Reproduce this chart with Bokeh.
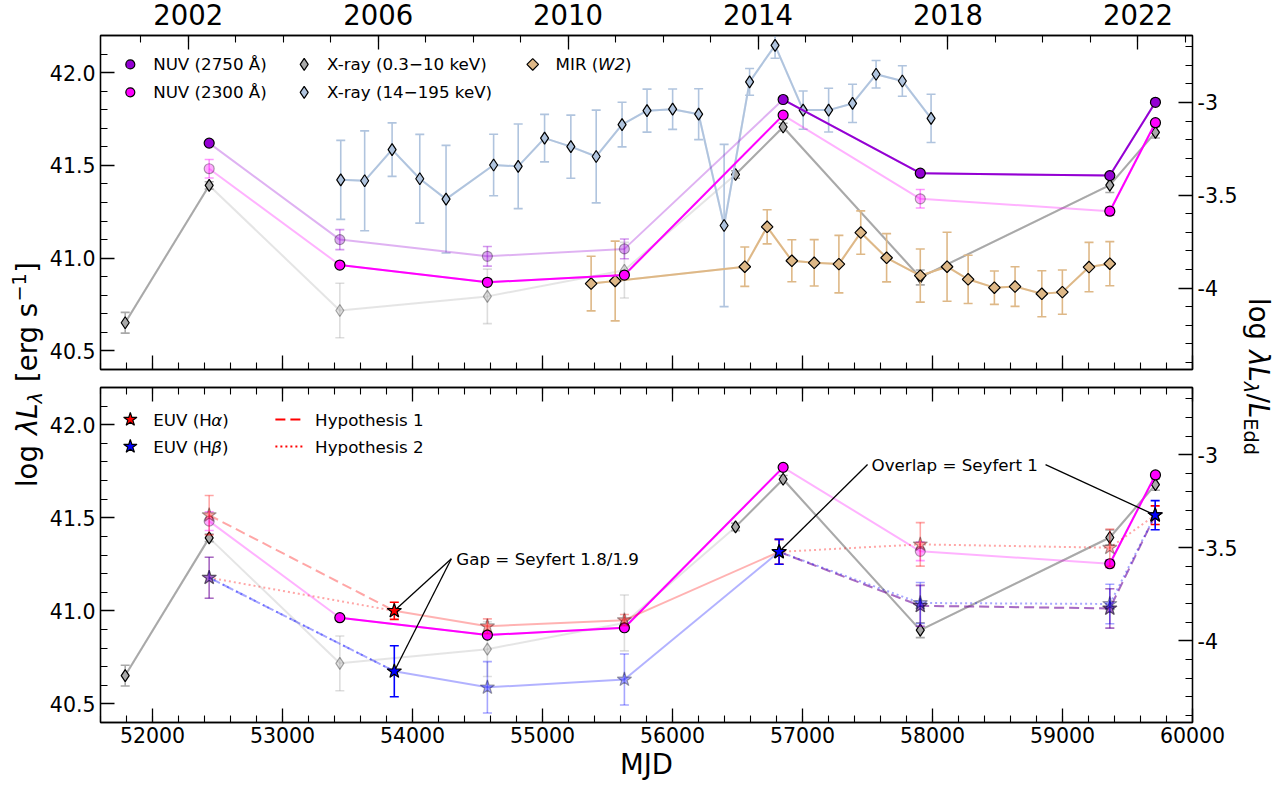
import numpy as np
from datetime import date
from bokeh.plotting import figure
from bokeh.layouts import row, column
from bokeh.models import (Range1d, LinearAxis, FixedTicker, SingleIntervalTicker,
                          PrintfTickFormatter, Label)
from bokeh.embed import file_html
from bokeh.resources import INLINE

FONT = "DejaVu Sans"

# ---------------- data ----------------
# NUV 2750 A  (obs = 1 measured, 0 = estimated from the other band)
nuv2750_mjd = [52436, 53441, 54576, 55630, 56851, 57906, 59364, 59715]
nuv2750_val = [41.620, 41.100, 41.010, 41.050, 41.855, 41.458, 41.445, 41.840]
nuv2750_err = [0.0, 0.054, 0.053, 0.053, 0.0, 0.0, 0.0, 0.0]
nuv2750_obs = [1, 0, 0, 0, 1, 1, 1, 1]

# NUV 2300 A
nuv2300_mjd = [52436, 53441, 54576, 55630, 56851, 57906, 59364, 59715]
nuv2300_val = [41.482, 40.963, 40.870, 40.909, 41.771, 41.320, 41.253, 41.730]
nuv2300_err = [0.05, 0.0, 0.0, 0.0, 0.0, 0.05, 0.02, 0.0]
nuv2300_obs = [0, 1, 1, 1, 1, 0, 1, 1]

# X-ray 0.3-10 keV
xsoft_mjd = [51790, 52436, 53441, 54576, 55630, 56485, 56851, 57906, 59364, 59715]
xsoft_val = [40.652, 41.392, 40.718, 40.794, 40.935, 41.451, 41.707, 40.896, 41.394, 41.678]
xsoft_err = [0.056, 0.02, 0.147, 0.147, 0.15, 0.02, 0.02, 0.04, 0.04, 0.03]
xsoft_obs = [1, 1, 0, 0, 0, 1, 1, 1, 1, 1]

# X-ray 14-195 keV
xhard_mjd = [53448, 53632, 53843, 54056, 54258, 54624, 54813, 55016, 55218, 55413,
             55612, 55804, 56001, 56201, 56397, 56593, 56789, 57005, 57201, 57385,
             57566, 57768, 57989]
xhard_val = [41.422, 41.417, 41.585, 41.428, 41.318, 41.502, 41.495, 41.647, 41.601, 41.548,
             41.720, 41.795, 41.803, 41.776, 41.176, 41.950, 42.147, 41.798, 41.798, 41.834,
             41.991, 41.955, 41.753]
xhard_err = [0.213, 0.269, 0.144, 0.239, 0.290, 0.166, 0.228, 0.128, 0.170, 0.250,
             0.120, 0.116, 0.109, 0.137, 0.437, 0.072, 0.070, 0.103, 0.118, 0.103,
             0.074, 0.082, 0.130]

# MIR (W2)
mir_mjd = [55374, 55559, 56556, 56728, 56918, 57090, 57280, 57448, 57647, 57906,
           58112, 58274, 58476, 58635, 58841, 58999, 59204, 59364]
mir_val = [40.863, 40.877, 40.954, 41.169, 40.986, 40.975, 40.968, 41.138, 41.002, 40.906,
           40.954, 40.886, 40.841, 40.847, 40.808, 40.817, 40.952, 40.970]
mir_err = [0.147, 0.215, 0.106, 0.092, 0.113, 0.125, 0.155, 0.117, 0.130, 0.143,
           0.186, 0.130, 0.090, 0.107, 0.124, 0.119, 0.133, 0.119]

# EUV from the broad Balmer lines
euv_mjd = [53860, 54576, 55630, 56820, 59713]
ha_val = [41.000, 40.917, 40.950, 41.317, 41.514]
ha_err = [0.046, 0.040, 0.030, 0.067, 0.050]
ha_obs = [1, 0, 0, 1, 1]
hb_val = [40.675, 40.589, 40.631, 41.317, 41.514]
hb_err = [0.137, 0.138, 0.137, 0.067, 0.078]
hb_obs = [1, 0, 0, 1, 1]

# hypotheses before the 2006 spectrum and after the 2014 spectrum
hyp_early_mjd = [52436, 53860]
hyp_late_mjd = [56820, 57906, 59364, 59713]
h1_ha_early = [41.514, 41.000]
h1_ha_early_err = [0.106, 0.0]
h2_ha_early = [41.178, 41.000]
h2_ha_early_err = [0.110, 0.0]
h1_hb_early = [41.178, 40.675]
h2_hb_early = [41.178, 40.675]
hb_early_err = [0.110, 0.0]
h1_late = [41.317, 41.027, 41.013, 41.514]
h1_late_err = [0.0, 0.110, 0.106, 0.0]
h2_ha_late = [41.317, 41.357, 41.339, 41.514]
h2_ha_late_err = [0.0, 0.117, 0.100, 0.0]
h2_hb_late = [41.317, 41.042, 41.037, 41.514]
h2_hb_late_err = [0.0, 0.110, 0.106, 0.0]

# axis ticks
lum_ticks = [40.5, 41.0, 41.5, 42.0]
edd_ticks = [-4.0, -3.5, -3.0]
year_ticks = [2002, 2006, 2010, 2014, 2018, 2022]
LOG_LEDD = 44.839

# ---------------- layout ----------------
LEFT_W, RIGHT_W = 46, 36
MAIN_W = 1276 - LEFT_W - RIGHT_W
BORDER_L, BORDER_R = 51, 44
FRAME_W, FRAME_H = MAIN_W - BORDER_L - BORDER_R, 335
TOP_H, BOT_H = 378, 407
X0, X1 = 51600, 60000
Y0, Y1 = 40.4, 42.2
FRAME_LEFT = LEFT_W + BORDER_L

COL_NUV1 = "#9400D3"
COL_NUV2 = "#FF00FF"
COL_XS = "#A9A9A9"
COL_XH = "#B0C4DE"
COL_MIR = "#DEB887"
FADE = 0.33


def mjd_of_year(y):
    return (date(y, 1, 1) - date(1858, 11, 17)).days


def xd(px):
    return X0 + (px - FRAME_LEFT) * (X1 - X0) / FRAME_W


def yd(py, top):
    return Y1 - (py - top) * (Y1 - Y0) / FRAME_H


def style_axis(ax, labels=True, size="20.5px", standoff=6):
    ax.major_tick_in = 14
    ax.major_tick_out = 0
    ax.minor_tick_in = 7
    ax.minor_tick_out = 0
    ax.major_tick_line_width = 1.3
    ax.minor_tick_line_width = 1.1
    ax.axis_line_width = 1.3
    ax.axis_line_color = "black"
    ax.major_tick_line_color = "black"
    ax.minor_tick_line_color = "black"
    ax.major_label_text_font = FONT
    if labels:
        ax.major_label_text_color = "black"
        ax.major_label_text_font_size = size
        ax.major_label_standoff = standoff
    else:
        ax.major_label_text_color = None
        ax.major_label_text_font_size = "1px"
        ax.major_label_standoff = 0


xr = Range1d(X0, X1)


def make_panel(height, b_top, b_bottom, years_on_top, mjd_labels):
    p = figure(width=MAIN_W, height=height, x_range=xr, y_range=Range1d(Y0, Y1),
               output_backend="svg", toolbar_location=None,
               x_axis_location=None, y_axis_location=None,
               min_border_left=BORDER_L, min_border_right=BORDER_R,
               min_border_top=b_top, min_border_bottom=b_bottom)
    p.grid.visible = False
    p.extra_y_ranges = {"edd": Range1d(Y0 - LOG_LEDD, Y1 - LOG_LEDD)}
    p.outline_line_color = "black"
    p.outline_line_width = 1.3
    p.background_fill_color = "white"
    p.border_fill_color = "white"

    minor_lum = [round(v, 1) for v in np.arange(40.4, 42.21, 0.1)]
    left = LinearAxis(ticker=FixedTicker(ticks=lum_ticks, minor_ticks=minor_lum),
                      formatter=PrintfTickFormatter(format="%.1f"))
    style_axis(left, standoff=5)
    p.add_layout(left, "left")

    minor_edd = [round(v, 1) for v in np.arange(-4.4, -2.6, 0.1)]
    right = LinearAxis(y_range_name="edd",
                       ticker=FixedTicker(ticks=edd_ticks, minor_ticks=minor_edd),
                       formatter=PrintfTickFormatter(format="%g"))
    style_axis(right, standoff=5)
    p.add_layout(right, "right")

    if years_on_top:
        top = LinearAxis(ticker=FixedTicker(ticks=[mjd_of_year(y) for y in year_ticks],
                                            minor_ticks=[mjd_of_year(y) for y in range(2001, 2024)]),
                         major_label_overrides={mjd_of_year(y): str(y) for y in year_ticks})
        style_axis(top, size="27.5px", standoff=11)
    else:
        top = LinearAxis(ticker=SingleIntervalTicker(interval=1000, num_minor_ticks=5))
        style_axis(top, labels=False)
    p.add_layout(top, "above")

    bottom = LinearAxis(ticker=SingleIntervalTicker(interval=1000, num_minor_ticks=5),
                        formatter=PrintfTickFormatter(format="%d"))
    style_axis(bottom, labels=mjd_labels, standoff=4)
    if mjd_labels:
        bottom.axis_label = "MJD"
        bottom.axis_label_text_font = FONT
        bottom.axis_label_text_font_size = "27.5px"
        bottom.axis_label_text_font_style = "normal"
        bottom.axis_label_text_color = "black"
        bottom.axis_label_standoff = 2
    p.add_layout(bottom, "below")
    return p


def errorbars(p, x, y, e, color, alpha, width=1.6, cap=9):
    x = np.asarray(x, float)
    y = np.asarray(y, float)
    e = np.asarray(e, float)
    m = e > 0
    if not m.any():
        return
    p.segment(x[m], y[m] - e[m], x[m], y[m] + e[m], line_color=color,
              line_alpha=alpha, line_width=width)
    p.scatter(np.r_[x[m], x[m]], np.r_[y[m] - e[m], y[m] + e[m]], marker="dash",
              size=cap, line_color=color, line_alpha=alpha, line_width=width)


def markers(p, x, y, color, marker, size, alpha=1.0, angle=0.0):
    p.scatter(x, y, marker=marker, size=size, angle=angle, fill_color=color,
              fill_alpha=alpha, line_color="black", line_alpha=alpha, line_width=1.2)


def series(p, x, y, e, obs, color, marker, size, angle=0.0, line_color=None):
    """Measured points solid, estimated points faded; solid line only where both ends are measured."""
    line_color = line_color or color
    x = np.asarray(x, float)
    y = np.asarray(y, float)
    e = np.asarray(e, float)
    o = np.asarray(obs, bool)
    p.line(x, y, line_color=line_color, line_alpha=0.3, line_width=2)
    both = o[:-1] & o[1:]
    if both.any():
        p.segment(x[:-1][both], y[:-1][both], x[1:][both], y[1:][both],
                  line_color=line_color, line_width=2)
    errorbars(p, x[~o], y[~o], e[~o], color, 0.4)
    errorbars(p, x[o], y[o], e[o], color, 1.0)
    markers(p, x[~o], y[~o], color, marker, size, alpha=FADE, angle=angle)
    markers(p, x[o], y[o], color, marker, size, angle=angle)


def text(p, px, py, top, s, size=16.7, style="normal", align="left"):
    p.add_layout(Label(x=xd(px), y=yd(py, top), text=s, text_font=FONT,
                       text_font_size=f"{size}px", text_font_style=style,
                       text_color="black", text_baseline="middle", text_align=align))


# DejaVu Sans advance widths (em)
ADV = {' ': .318, '(': .390, ')': .390, '[': .390, ']': .390, '/': .337, '=': .838,
       '.': .318, '-': .361, '−': .838, 'A': .684, 'Å': .684, 'E': .632, 'H': .752,
       'I': .295, 'M': .863, 'N': .748, 'R': .695, 'U': .732, 'V': .684, 'W': .989,
       'L': .557, 'a': .613, 'd': .635, 'e': .615, 'g': .635, 'l': .278, 'o': .612,
       'r': .411, 's': .521, 'λ': .592, 'α': .659, 'β': .638}
for _d in "0123456789":
    ADV[_d] = .636


def width(s, size):
    return sum(ADV.get(c, .6) for c in s) * size


def rich_text(p, px, py, top, pieces, size=16.7):
    for s, style in pieces:
        text(p, px, py, top, s, size=size, style=style)
        px += width(s, size)


# ---------------- top panel ----------------
TOP_FRAME = 34
ptop = make_panel(TOP_H, TOP_FRAME, TOP_H - TOP_FRAME - FRAME_H, True, False)

series(ptop, xsoft_mjd, xsoft_val, xsoft_err, xsoft_obs, COL_XS, "diamond", 12)
series(ptop, xhard_mjd, xhard_val, xhard_err, [1] * len(xhard_mjd), COL_XH, "diamond", 12)
series(ptop, mir_mjd, mir_val, mir_err, [1] * len(mir_mjd), COL_MIR, "square", 8.2,
       angle=np.pi / 4)
series(ptop, nuv2300_mjd, nuv2300_val, nuv2300_err, nuv2300_obs, COL_NUV2, "circle", 10)
series(ptop, nuv2750_mjd, nuv2750_val, nuv2750_err, nuv2750_obs, COL_NUV1, "circle", 10)

# legend
rows_top = [63, 91]
leg = [
    (127, rows_top[0], COL_NUV1, "circle", 9, 0.0, [("NUV (2750 Å)", "normal")]),
    (127, rows_top[1], COL_NUV2, "circle", 9, 0.0, [("NUV (2300 Å)", "normal")]),
    (302, rows_top[0], COL_XS, "diamond", 12, 0.0, [("X-ray (0.3−10 keV)", "normal")]),
    (302, rows_top[1], COL_XH, "diamond", 12, 0.0, [("X-ray (14−195 keV)", "normal")]),
    (532, rows_top[0], COL_MIR, "square", 8.2, np.pi / 4,
     [("MIR (", "normal"), ("W2", "italic"), (")", "normal")]),
]
for mx, my, col, mk, sz, ang, pieces in leg:
    markers(ptop, [xd(mx)], [yd(my, TOP_FRAME)], col, mk, sz, angle=ang)
    rich_text(ptop, mx + 23, my, TOP_FRAME, pieces)

# ---------------- bottom panel ----------------
BOT_FRAME = TOP_H + 9
pbot = make_panel(BOT_H, 9, BOT_H - 9 - FRAME_H, False, True)

series(pbot, xsoft_mjd, xsoft_val, xsoft_err, xsoft_obs, COL_XS, "diamond", 12)
series(pbot, nuv2300_mjd, nuv2300_val, nuv2300_err, nuv2300_obs, COL_NUV2, "circle", 10)

HA, HB = "#FF0000", "#0000FF"
HFADE = 0.35

# spectroscopic sequence: faded lines where at least one end is estimated
for vals, obs, col in [(ha_val, ha_obs, HA), (hb_val, hb_obs, HB)]:
    x = np.asarray(euv_mjd, float)
    y = np.asarray(vals, float)
    o = np.asarray(obs, bool)
    keep = ~(o[:-1] & o[1:])
    pbot.segment(x[:-1][keep], y[:-1][keep], x[1:][keep], y[1:][keep],
                 line_color=col, line_alpha=0.3, line_width=2)

# hypotheses
hyp_lines = [
    (hyp_early_mjd, h1_ha_early, HA, "10 5"), (hyp_early_mjd, h2_ha_early, HA, "2 3"),
    (hyp_early_mjd, h1_hb_early, HB, "10 5"), (hyp_early_mjd, h2_hb_early, HB, "2 3"),
    (hyp_late_mjd, h1_late, HA, "10 5"), (hyp_late_mjd, h2_ha_late, HA, "2 3"),
    (hyp_late_mjd, h1_late, HB, "10 5"), (hyp_late_mjd, h2_hb_late, HB, "2 3"),
]
for xs, ys, col, dash in hyp_lines:
    pbot.line(xs, ys, line_color=col, line_alpha=HFADE, line_width=2, line_dash=dash)

# annotations
GAP_X, GAP_Y = 54337, 41.28
OVL_X, OVL_Y = 57531, 41.786
gap_src = xd(FRAME_LEFT + (GAP_X - X0) * FRAME_W / (X1 - X0) - 5)
pbot.segment([gap_src, gap_src], [GAP_Y, GAP_Y], [euv_mjd[0], euv_mjd[0]],
             [ha_val[0], hb_val[0]], line_color="black", line_width=1.3)
ovl_w = width("Overlap = Seyfert 1", 16.7)
ovl_left = xd(FRAME_LEFT + (OVL_X - X0) * FRAME_W / (X1 - X0) - 4)
ovl_right = xd(FRAME_LEFT + (OVL_X - X0) * FRAME_W / (X1 - X0) + ovl_w + 5)
pbot.segment([ovl_left, ovl_right], [OVL_Y, OVL_Y], [euv_mjd[3], euv_mjd[4]],
             [hb_val[3], hb_val[4]], line_color="black", line_width=1.3)

# hypothesis stars (estimated, faded)
hyp_pts = [
    (hyp_early_mjd, h1_ha_early, h1_ha_early_err, HA),
    (hyp_early_mjd, h2_ha_early, h2_ha_early_err, HA),
    (hyp_early_mjd, h1_hb_early, hb_early_err, HB),
    (hyp_late_mjd, h1_late, h1_late_err, HA),
    (hyp_late_mjd, h2_ha_late, h2_ha_late_err, HA),
    (hyp_late_mjd, h1_late, h1_late_err, HB),
    (hyp_late_mjd, h2_hb_late, h2_hb_late_err, HB),
]
for xs, ys, es, col in hyp_pts:
    est = np.asarray(es) > 0
    xs_e = np.asarray(xs, float)[est]
    ys_e = np.asarray(ys, float)[est]
    es_e = np.asarray(es, float)[est]
    errorbars(pbot, xs_e, ys_e, es_e, col, HFADE)
    markers(pbot, xs_e, ys_e, col, "star", 15, alpha=HFADE)

# EUV stars from the spectra
for vals, errs, obs, col in [(ha_val, ha_err, ha_obs, HA), (hb_val, hb_err, hb_obs, HB)]:
    x = np.asarray(euv_mjd, float)
    y = np.asarray(vals, float)
    e = np.asarray(errs, float)
    o = np.asarray(obs, bool)
    errorbars(pbot, x[~o], y[~o], e[~o], col, HFADE)
    markers(pbot, x[~o], y[~o], col, "star", 15, alpha=HFADE)
for vals, errs, obs, col in [(ha_val, ha_err, ha_obs, HA), (hb_val, hb_err, hb_obs, HB)]:
    x = np.asarray(euv_mjd, float)
    y = np.asarray(vals, float)
    e = np.asarray(errs, float)
    o = np.asarray(obs, bool)
    errorbars(pbot, x[o], y[o], e[o], col, 1.0)
    markers(pbot, x[o], y[o], col, "star", 15)

pbot.add_layout(Label(x=GAP_X, y=GAP_Y, text="Gap = Seyfert 1.8/1.9", text_font=FONT,
                      text_font_size="16.7px", text_color="black", text_baseline="middle"))
pbot.add_layout(Label(x=OVL_X, y=OVL_Y, text="Overlap = Seyfert 1", text_font=FONT,
                      text_font_size="16.7px", text_color="black", text_baseline="middle"))

# legend
rows_bot = [419, 446]
for my, col, greek in [(rows_bot[0], HA, "α"), (rows_bot[1], HB, "β")]:
    markers(pbot, [xd(127)], [yd(my, BOT_FRAME)], col, "star", 14)
    rich_text(pbot, 150, my, BOT_FRAME, [("EUV (H", "normal"), (greek, "italic"), (")", "normal")])
for my, dash, lab in [(rows_bot[0], "10 5", "Hypothesis 1"), (rows_bot[1], "2 3", "Hypothesis 2")]:
    pbot.line([xd(273), xd(301)], [yd(my, BOT_FRAME)] * 2, line_color=HA, line_width=2,
              line_dash=dash)
    text(pbot, 313, my, BOT_FRAME, lab)

# ---------------- side labels ----------------
H = TOP_H + BOT_H


def side_fig(w):
    f = figure(width=w, height=H, x_range=Range1d(0, w), y_range=Range1d(0, H),
               output_backend="svg", toolbar_location=None,
               x_axis_location=None, y_axis_location=None, min_border=0)
    f.outline_line_color = None
    f.grid.visible = False
    f.border_fill_color = "white"
    return f


YL_SIZE = 27.5
MID = 0.347  # height of the text-box middle above the baseline, in em
SPACE = ADV[' ']


def vertical_label(f, base_x, center_y, pieces, direction):
    """direction +1: reads bottom-to-top; -1: reads top-to-bottom (page coords).
    base_x is the baseline position across the text.  Each piece is
    (text, style, scale, baseline shift in em, gap before it in em)."""
    total = sum(width(s, YL_SIZE * sc) + gap * YL_SIZE for s, st, sc, sh, gap in pieces)
    pos = center_y + direction * total / 2.0
    ang = direction * np.pi / 2
    for s, st, sc, sh, gap in pieces:
        pos -= direction * gap * YL_SIZE
        size = YL_SIZE * sc
        up = sh * YL_SIZE + MID * size
        bx = base_x - direction * up
        f.add_layout(Label(x=bx, y=H - pos, text=s, angle=ang, text_font=FONT,
                           text_font_size=f"{size:.2f}px", text_font_style=st,
                           text_color="black", text_align="left",
                           text_baseline="middle"))
        pos -= direction * width(s, size)


fleft = side_fig(LEFT_W)
vertical_label(fleft, 36, 374,
               [("log", "normal", 1, 0, 0), ("λL", "italic", 1, 0, SPACE + 0.05),
                ("λ", "italic", 0.7, -0.2, 0), ("[erg s", "normal", 1, 0, SPACE + 0.05),
                ("−1", "normal", 0.7, 0.38, 0.03), ("]", "normal", 1, 0, 0.02)], 1)

fright = side_fig(RIGHT_W)
vertical_label(fright, 9, 376,
               [("log", "normal", 1, 0, 0), ("λL", "italic", 1, 0, SPACE + 0.05),
                ("λ", "italic", 0.7, -0.2, 0), ("/", "normal", 1, 0, 0.02),
                ("L", "italic", 1, 0, 0), ("Edd", "normal", 0.7, -0.2, 0)], -1)

layout = row(fleft, column(ptop, pbot), fright)
open("out.html", "w").write(file_html(layout, INLINE))
